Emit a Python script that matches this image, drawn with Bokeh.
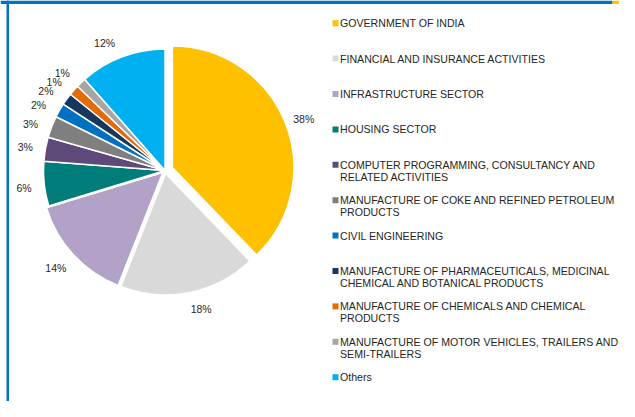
import math
from bokeh.plotting import figure
from bokeh.models import Range1d
from bokeh.embed import file_html
from bokeh.resources import INLINE
from bokeh.core.properties import value

# ---------------- data ----------------
categories = [
    "GOVERNMENT OF INDIA",
    "FINANCIAL AND INSURANCE ACTIVITIES",
    "INFRASTRUCTURE SECTOR",
    "HOUSING SECTOR",
    "COMPUTER PROGRAMMING, CONSULTANCY AND RELATED ACTIVITIES",
    "MANUFACTURE OF COKE AND REFINED PETROLEUM PRODUCTS",
    "CIVIL ENGINEERING",
    "MANUFACTURE OF PHARMACEUTICALS, MEDICINAL CHEMICAL AND BOTANICAL PRODUCTS",
    "MANUFACTURE OF CHEMICALS AND CHEMICAL PRODUCTS",
    "MANUFACTURE OF MOTOR VEHICLES, TRAILERS AND SEMI-TRAILERS",
    "Others",
]
shares = [37.8, 18.2, 14.3, 5.9, 3.2, 2.9, 1.9, 1.6, 1.4, 1.3, 11.5]
legend_lines = [
    ["GOVERNMENT OF INDIA"],
    ["FINANCIAL AND INSURANCE ACTIVITIES"],
    ["INFRASTRUCTURE SECTOR"],
    ["HOUSING SECTOR"],
    ["COMPUTER PROGRAMMING, CONSULTANCY AND", "RELATED ACTIVITIES"],
    ["MANUFACTURE OF COKE AND REFINED PETROLEUM", "PRODUCTS"],
    ["CIVIL ENGINEERING"],
    ["MANUFACTURE OF PHARMACEUTICALS, MEDICINAL", "CHEMICAL AND BOTANICAL PRODUCTS"],
    ["MANUFACTURE OF CHEMICALS AND CHEMICAL", "PRODUCTS"],
    ["MANUFACTURE OF MOTOR VEHICLES, TRAILERS AND", "SEMI-TRAILERS"],
    ["Others"],
]

# ---------------- style ----------------
colors = ["#FFC000", "#D9D9D9", "#B2A2C7", "#007C7A", "#5E4A7A", "#7F7F7F",
          "#0070C0", "#17375E", "#E36C09", "#A6A6A6", "#00B0F0"]
explode = [8, 3, 3, 0, 0, 0, 0, 0, 0, 0, 0]
label_nudge = [(-1, 3), (8, 0), (-2, 2), (-2, 2), (-2, 1), (-4, 3), (-5, 3), (-6, 2), (-6, 3), (-6, 2), (-10, 2)]
TXT = "#262626"
FONT = "Liberation Sans"
BLUE = "#0075BF"

W, H = 619, 401
PAGE_H = 417
def Y(py):
    return PAGE_H - py

p = figure(width=W, height=H, x_range=Range1d(0, W), y_range=Range1d(PAGE_H - H, PAGE_H),
           x_axis_type=None, y_axis_type=None, output_backend="svg",
           toolbar_location=None, min_border=0)
p.grid.visible = False
p.outline_line_color = None
p.background_fill_color = "white"
p.border_fill_color = "white"

# frame
p.quad(left=0, right=612, top=Y(0), bottom=Y(3.5), fill_color=BLUE, line_color=None)
p.quad(left=612, right=619, top=Y(0), bottom=Y(3.5), fill_color="#FFC000", line_color=None)
p.quad(left=6, right=8.5, top=Y(0), bottom=Y(401), fill_color=BLUE, line_color=None)

# pie
cx, cy, R = 164.5, Y(170), 121.5
total = sum(shares)
cum = 0.0
lx, ly, ltxt = [], [], []
for i, v in enumerate(shares):
    f0 = cum / total
    f1 = (cum + v) / total
    cum += v
    mid = (f0 + f1) / 2 * 2 * math.pi  # clockwise from top
    dx, dy = math.sin(mid), math.cos(mid)
    ax, ay = cx + explode[i] * dx, cy + explode[i] * dy
    p.wedge(x=ax, y=ay, radius=R,
            start_angle=math.pi / 2 - 2 * math.pi * f0,
            end_angle=math.pi / 2 - 2 * math.pi * f1,
            direction="clock", fill_color=colors[i], line_color="white", line_width=1.5)
    txt = f"{round(v)}%"
    w = 5.8 * len(txt) + 3
    h = 11
    g = R + 11
    tx = ax + g * dx + w / 2 * dx + label_nudge[i][0]
    ty = ay + g * dy + h / 2 * dy - label_nudge[i][1]
    lx.append(tx); ly.append(ty); ltxt.append(txt)

p.text(x=lx, y=ly, text=ltxt, text_align="center", text_baseline="middle",
       text_font=value(FONT), text_font_size="10.5px", text_color=TXT)

# legend
sq_x, txt_x = 335, 339.5
y0, step, lh = 22.7, 35.4, 12
sx, sy, tx_, ty_, tt = [], [], [], [], []
for i, lines in enumerate(legend_lines):
    yy = y0 + i * step
    sx.append(sq_x); sy.append(Y(yy))
    for j, line in enumerate(lines):
        tx_.append(txt_x); ty_.append(Y(yy + j * lh)); tt.append(line)
p.rect(x=sx, y=sy, width=6, height=6, fill_color=colors, line_color=None)
p.text(x=tx_, y=ty_, text=tt, text_align="left", text_baseline="middle",
       text_font=value(FONT), text_font_size="10.6px", text_color=TXT)

open("out.html", "w").write(file_html(p, INLINE))
